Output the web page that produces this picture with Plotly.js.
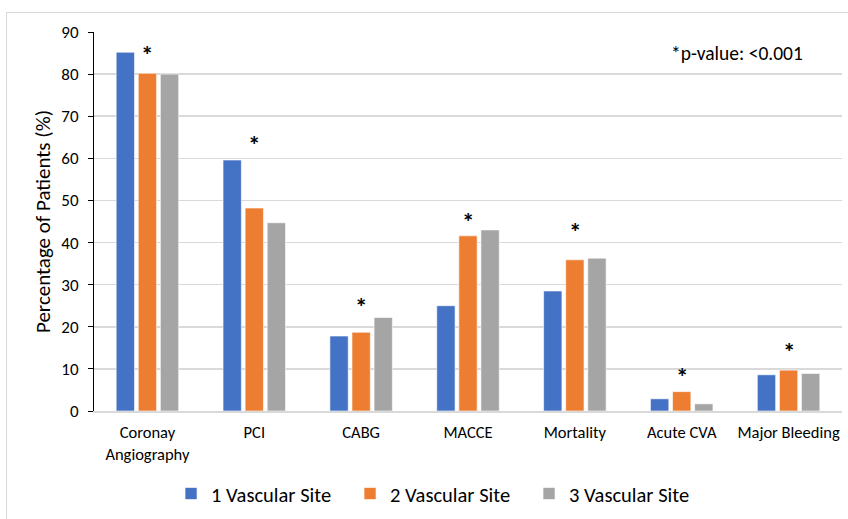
<!DOCTYPE html>
<html>
<head>
<meta charset="utf-8">
<script src="https://cdn.plot.ly/plotly-3.0.1.min.js"></script>
<style>
  html, body { margin: 0; padding: 0; background: #fff; }
  #wrap { position: relative; width: 848px; height: 519px; overflow: hidden; }
  #frame { position: absolute; left: 6px; top: 12px; width: 860px; height: 520px;
           border-top: 1.5px solid #d9d9d9; border-left: 1.5px solid #d9d9d9; pointer-events: none; }
  #chart { position: absolute; left: 0; top: 0; width: 848px; height: 519px; }
</style>
</head>
<body>
<div id="wrap">
  <div id="frame"></div>
  <div id="chart"></div>
</div>
<script>
// Outcome categories along the x axis
const categories = ["Coronay<br>Angiography", "PCI", "CABG", "MACCE", "Mortality", "Acute CVA", "Major Bleeding"];

// Percentage of patients by number of affected vascular sites
const site1 = [85.2, 59.6, 17.8, 25.0, 28.5, 2.9, 8.6];
const site2 = [80.2, 48.2, 18.7, 41.6, 35.9, 4.6, 9.7];
const site3 = [80.0, 44.7, 22.2, 43.0, 36.3, 1.7, 8.9];

// Height at which each significance marker sits
const starLevels = [85.8, 64.5, 26.0, 46.3, 43.7, 9.3, 15.2];

const FONT = "Calibri, Carlito, Lato, sans-serif";

function barTrace(name, values, color) {
  return {
    type: "bar",
    name: name,
    x: categories,
    y: values,
    marker: { color: color, line: { color: "rgba(255,255,255,0.6)", width: 1 } },
    hoverinfo: "x+y+name"
  };
}

const traces = [
  barTrace("1 Vascular Site", site1, "#4472C4"),
  barTrace("2 Vascular Site", site2, "#ED7D31"),
  barTrace("3 Vascular Site", site3, "#A5A5A5")
];

const annotations = categories.map((c, i) => ({
  x: c, y: starLevels[i], xref: "x", yref: "y",
  text: "<b>*</b>", showarrow: false,
  font: { family: FONT, size: 25, color: "#000" },
  yanchor: "middle", yshift: -5
}));
annotations.push({
  xref: "paper", yref: "paper", x: 0.951, y: 0.945,
  xanchor: "right", yanchor: "middle",
  text: "*p-value: <0.001", showarrow: false,
  font: { family: FONT, size: 19.5, color: "#000" }
});

const layout = {
  width: 848, height: 519,
  margin: { l: 94, r: 6, t: 32, b: 107 },
  paper_bgcolor: "rgba(0,0,0,0)",
  plot_bgcolor: "rgba(0,0,0,0)",
  font: { family: FONT, color: "#000" },
  barmode: "group",
  bargap: 0.38,
  bargroupgap: 0.17,
  showlegend: true,
  legend: {
    orientation: "h", x: 0.103, xanchor: "left", y: -0.215, yanchor: "middle",
    font: { family: FONT, size: 20.5, color: "#000" },
    traceorder: "normal", itemwidth: 30, entrywidth: 134
  },
  xaxis: {
    type: "category",
    showgrid: false, zeroline: false,
    showline: true, linecolor: "#d9d9d9", linewidth: 1.5,
    ticks: "", ticklabelstandoff: 6,
    tickfont: { family: FONT, size: 16.5, color: "#000" },
    automargin: false
  },
  yaxis: {
    range: [0, 90], dtick: 10, tick0: 0,
    showgrid: true, gridcolor: "#d9d9d9", gridwidth: 1.5,
    zeroline: false,
    showline: true, linecolor: "#000", linewidth: 1,
    ticks: "outside", ticklen: 5, tickcolor: "#000", tickwidth: 1,
    ticklabelstandoff: 6,
    tickfont: { family: FONT, size: 17, color: "#000" },
    title: { text: "Percentage of Patients (%)", font: { family: FONT, size: 21, color: "#000" }, standoff: 5 },
    automargin: false
  },
  annotations: annotations
};

Plotly.newPlot("chart", traces, layout, { displayModeBar: false, staticPlot: true });
</script>
</body>
</html>
